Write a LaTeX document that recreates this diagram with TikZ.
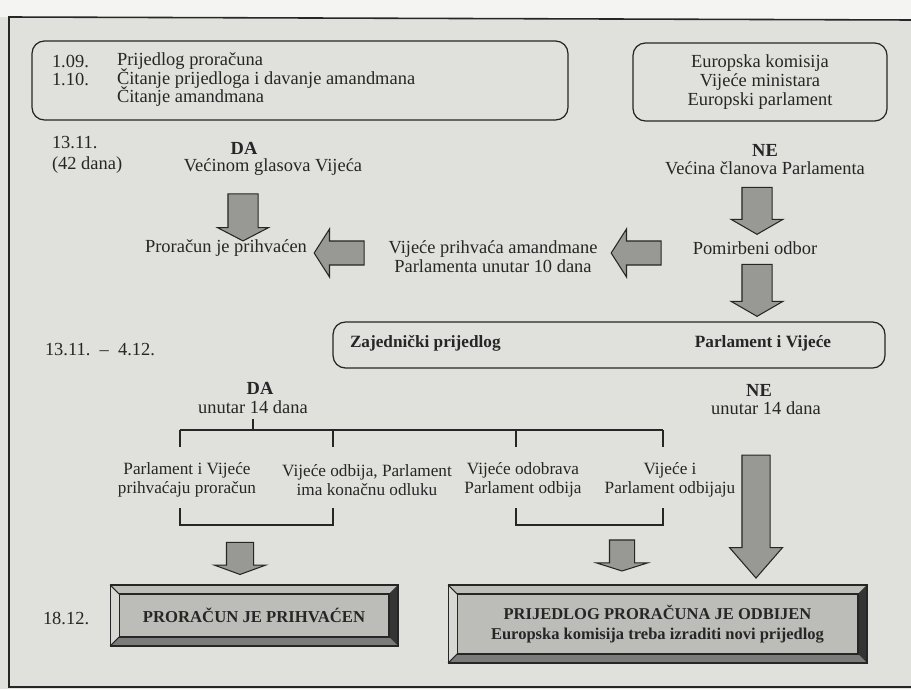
\documentclass[tikz,border=0pt]{standalone}
\usepackage{fontspec}
\setmainfont{Liberation Serif}
\usepackage{tikz}
\usetikzlibrary{calc, shapes.arrows, positioning}

\definecolor{papir}{RGB}{224,224,220}
\definecolor{tinta}{RGB}{38,38,38}
\definecolor{sivastr}{RGB}{152,152,149}
\definecolor{lice}{RGB}{188,188,184}
\definecolor{svijetla}{RGB}{216,216,212}
\definecolor{tamna}{RGB}{52,52,52}

\tikzset{
  tekst/.style={text=tinta, inner sep=0pt, outer sep=0pt, align=center,
    font=\fontsize{10.5}{10.8}\selectfont},
  masno/.style={tekst, font=\fontsize{10.5}{10.8}\selectfont\bfseries},
  grana/.style={tekst, font=\fontsize{9.8}{10.8}\selectfont},
  okvir/.style={draw=tinta, line width=0.7pt, rounded corners=7pt, inner sep=0pt, outer sep=0pt},
  strelica/.style n args={4}{single arrow, draw=tinta, fill=sivastr, line width=0.6pt,
    inner xsep=0pt, outer sep=0pt, minimum height=#1, inner ysep=#2,
    single arrow head extend=#3, single arrow tip angle=#4},
  kutija/.style={fill=lice, draw=tinta, line width=0.6pt, inner sep=0pt, outer sep=0pt,
    text=tinta, align=center},
  linija/.style={draw=tinta, line width=0.6pt}
}

\begin{document}
\begin{tikzpicture}[x=0.02cm, y=-0.02cm]
    % 0. Podloga
    \fill[papir] (0,0) rectangle (911,689);
    \fill[papir!35!white] (0,0) -- (911,0) -- (911,20) -- (0,17) -- cycle;
    \useasboundingbox (0,0) rectangle (911,689);

    % 1. Okvir stranice
    \draw[linija, line width=0.9pt] (911,687) -- (9,687) -- (9,17) -- (911,20);

    % 2. Gornji okviri
    \node[okvir, minimum width=10.72cm, minimum height=1.58cm] (lijevi) at (300,80.5) {};
    \node[tekst, anchor=west] (d109) at (52,61) {1.09.};
    \node[tekst, anchor=west] (prijedlog) at (117,61) {Prijedlog proračuna};
    \node[tekst, anchor=west] (d110) at (52,79) {1.10.};
    \node[tekst, anchor=west] (citanje) at (117,79) {Čitanje prijedloga i davanje amandmana};
    \node[tekst, anchor=west] (citanje2) at (117,97) {Čitanje amandmana};
    \node[okvir, tekst, draw=tinta, minimum width=5.08cm, minimum height=1.56cm,
      font=\fontsize{10.5}{10.8}\selectfont] (desni) at (760,82)
      {Europska komisija\\Vijeće ministara\\Europski parlament};

    % 3. Prvo glasanje (42 dana)
    \node[tekst, anchor=west] (d1311) at (52,143) {13.11.};
    \node[tekst, anchor=west] (d42) at (52,165) {(42 dana)};
    \node[masno] (da1) at (244,148) {DA};
    \node[tekst] (vecinom) at (273,167) {Većinom glasova Vijeća};
    \node[masno] (ne1) at (765,150) {NE};
    \node[tekst] (vecina) at (765,168) {Većina članova Parlamenta};
    \node[tekst] (prihvacen) at (226,248) {Proračun je prihvaćen};
    \node[tekst] (vijece) at (493,257) {Vijeće prihvaća amandmane\\Parlamenta unutar 10 dana};
    \node[tekst] (pomirbeni) at (755,248) {Pomirbeni odbor};

    % 4. Blok strelice
    \node[strelica={0.94cm}{0.29cm}{0.21cm}{125}, rotate=-90] (s1) at (243,213.5) {};
    \node[strelica={0.94cm}{0.29cm}{0.22cm}{120}, rotate=-90] (s2) at (757,206.5) {};
    \node[strelica={1.04cm}{0.29cm}{0.22cm}{120}, rotate=-90] (s3) at (757,286) {};
    \node[strelica={1.0cm}{0.23cm}{0.24cm}{115}, rotate=180] (s4) at (343,253) {};
    \node[strelica={1.0cm}{0.23cm}{0.24cm}{115}, rotate=180] (s5) at (640,253) {};

    % 5. Zajednički prijedlog
    \node[tekst, anchor=west] (d1304) at (45,350) {13.11.\ \ –\ \ 4.12.};
    \node[okvir, minimum width=11.04cm, minimum height=0.92cm] (zajednicki) at (609,345) {};
    \node[masno, anchor=west, font=\fontsize{9.8}{10.8}\selectfont\bfseries] (zaj) at (350,343) {Zajednički prijedlog};
    \node[masno, font=\fontsize{9.8}{10.8}\selectfont\bfseries] (parvij) at (763,343) {Parlament i Vijeće};

    % 6. Drugo glasanje (14 dana)
    \node[masno] (da2) at (260,388) {DA};
    \node[tekst] (unutar1) at (253,407) {unutar 14 dana};
    \node[masno] (ne2) at (759,390) {NE};
    \node[tekst] (unutar2) at (766,408) {unutar 14 dana};

    \coordinate (r1) at (180,430);
    \coordinate (r4) at (663,430);
    \draw[linija] ([yshift=-3pt]unutar1.south) -- (unutar1.south |- r1);
    \draw[linija] (r1) -- (r4);
    \foreach \x in {180,333,516,663} {
        \draw[linija] (\x,430) -- (\x,447);
    }
    \node[grana] (g1) at (187,480) {Parlament i Vijeće\\prihvaćaju proračun};
    \node[grana] (g2) at (367,480) {Vijeće odbija, Parlament\\ima konačnu odluku};
    \node[grana] (g3) at (523,480) {Vijeće odobrava\\Parlament odbija};
    \node[grana] (g4) at (670,480) {Vijeće i\\Parlament odbijaju};
    \foreach \a/\b in {180/333, 516/663} {
        \draw[linija] (\a,508) -- (\a,525) -- (\b,525) -- (\b,508);
    }

    \node[strelica={0.64cm}{0.26cm}{0.24cm}{140}, rotate=-90] (s6) at (240,556) {};
    \node[strelica={0.62cm}{0.24cm}{0.26cm}{145}, rotate=-90] (s7) at (622,553.5) {};
    \node[strelica={2.46cm}{0.27cm}{0.25cm}{82}, rotate=-90] (s8) at (756,508.5) {};

    % 7. Konačni ishod
    \node[tekst, anchor=west] (d1812) at (43,618) {18.12.};
    \node[kutija, minimum width=5.76cm, minimum height=1.22cm,
      font=\fontsize{9.5}{11}\selectfont\bfseries] (ok) at (254,615.5) {PRORAČUN JE PRIHVAĆEN};
    \node[kutija, minimum width=8.38cm, minimum height=1.56cm,
      font=\fontsize{9.4}{11.3}\selectfont\bfseries] (no) at (657.5,624)
      {PRIJEDLOG PRORAČUNA JE ODBIJEN\\Europska komisija treba izraditi novi prijedlog};
    \foreach \b in {ok,no} {
        \fill[svijetla!88!black] (\b.north west) -- (\b.north east) -- ([shift={(-9,9)}]\b.north east) -- ([shift={(9,9)}]\b.north west) -- cycle;
        \fill[svijetla] (\b.north west) -- ([shift={(9,9)}]\b.north west) -- ([shift={(9,-9)}]\b.south west) -- (\b.south west) -- cycle;
        \fill[tamna] (\b.north east) -- ([shift={(-9,9)}]\b.north east) -- ([shift={(-9,-9)}]\b.south east) -- (\b.south east) -- cycle;
        \fill[tamna!65!white] (\b.south west) -- ([shift={(9,-9)}]\b.south west) -- ([shift={(-9,-9)}]\b.south east) -- (\b.south east) -- cycle;
        \draw[linija] (\b.north west) rectangle (\b.south east);
        \draw[linija] ([shift={(9,9)}]\b.north west) rectangle ([shift={(-9,-9)}]\b.south east);
        \draw[linija] (\b.north west) -- ([shift={(9,9)}]\b.north west);
        \draw[linija] (\b.south west) -- ([shift={(9,-9)}]\b.south west);
    }
\end{tikzpicture}
\end{document}
